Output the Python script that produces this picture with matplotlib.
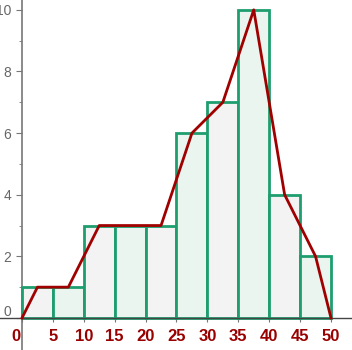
import matplotlib
matplotlib.use("Agg")
import matplotlib.pyplot as plt
import matplotlib.transforms as mtransforms
import numpy as np

bin_edges = [0, 5, 10, 15, 20, 25, 30, 35, 40, 45, 50]
counts = [1, 1, 3, 3, 3, 6, 7, 10, 4, 2]
poly_x = [0, 2.5, 7.5, 12.5, 17.5, 22.5, 27.5, 32.5, 37.5, 42.5, 47.5, 50]
poly_y = [0, 1, 1, 3, 3, 3, 6, 7, 10, 4, 2, 0]
x_ticks = [0, 5, 10, 15, 20, 25, 30, 35, 40, 45, 50]
y_ticks = [0, 2, 4, 6, 8, 10]

fig = plt.figure(figsize=(3.52, 3.5), dpi=100)
ax = fig.add_axes([0, 0, 1, 1])
ax.set_facecolor("white")

fills = ["#f3f3f3", "#eaf5ef"]
for i in range(len(counts)):
    ax.bar(bin_edges[i], counts[i], width=bin_edges[i+1]-bin_edges[i], align="edge",
           facecolor=fills[i % 2], edgecolor="#1e9e6e", linewidth=2, zorder=2)

ax.plot(poly_x, poly_y, color="#a00000", linewidth=2, zorder=4)

ax.set_xlim(-3.56, 53.4)
ax.set_ylim(-1.04, 10.32)

for s in ["top", "right"]:
    ax.spines[s].set_visible(False)
ax.spines["left"].set_position(("data", 0))
ax.spines["bottom"].set_position(("data", 0))
ax.spines["left"].set_color("#777777")
ax.spines["bottom"].set_color("#444444")
ax.spines["left"].set_linewidth(1.2)
ax.spines["bottom"].set_linewidth(1)
ax.spines["left"].set_zorder(1)

ax.set_yticks(y_ticks)
ax.set_yticks([1, 3, 5, 7, 9], minor=True)
ax.tick_params(axis="y", which="major", length=4, color="#777777", labelcolor="#666666",
               labelsize=10, pad=4)
ax.tick_params(axis="y", which="minor", length=2, color="#777777")
ax.set_xticks(x_ticks)
ax.set_xticklabels([str(v) for v in x_ticks])
ax.tick_params(axis="x", which="major", length=3, color="#777777", labelcolor="#990000",
               labelsize=12, pad=5)
for lbl in ax.get_yticklabels():
    lbl.set_family("Liberation Sans")
for lbl in ax.get_xticklabels():
    lbl.set_family("Liberation Sans")
    lbl.set_fontweight("bold")
x0 = ax.get_xticklabels()[0]
x0.set_horizontalalignment("right")
x0.set_transform(x0.get_transform() + mtransforms.ScaledTranslation(-2/100, 0, fig.dpi_scale_trans))
y0 = ax.get_yticklabels()[0]
y0.set_transform(y0.get_transform() + mtransforms.ScaledTranslation(0, 7/100, fig.dpi_scale_trans))

fig.savefig("out.png", dpi=100)
